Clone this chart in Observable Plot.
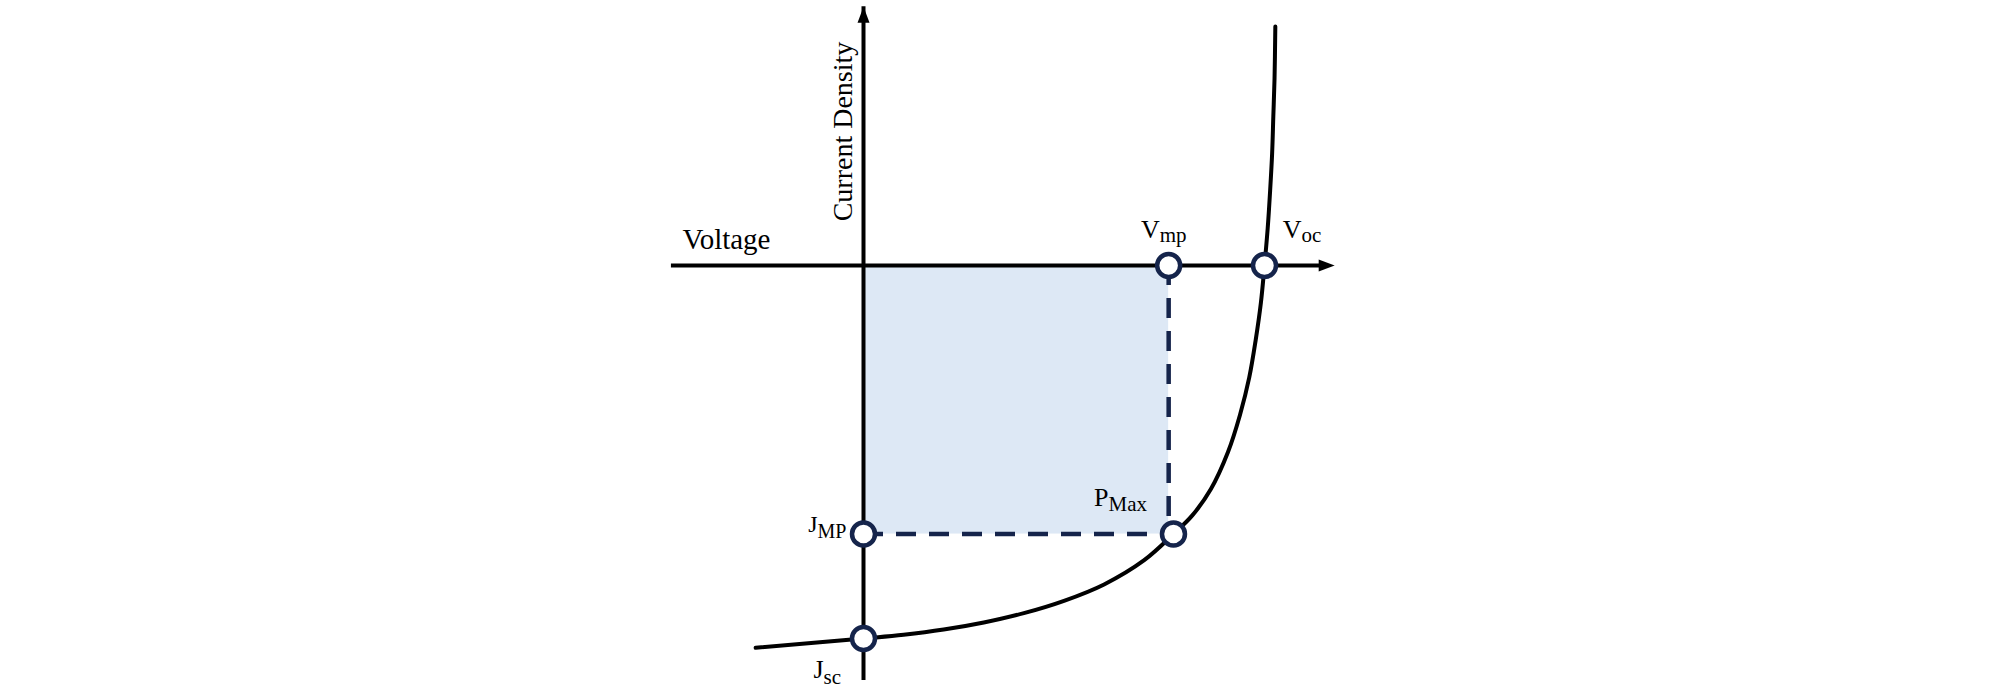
<!DOCTYPE html>
<html>
<head>
<meta charset="utf-8">
<script src="https://cdn.jsdelivr.net/npm/d3@7"></script>
<script src="https://cdn.jsdelivr.net/npm/@observablehq/plot@0.6"></script>
<style>
  html, body { margin: 0; padding: 0; background: #ffffff; }
  #chart { width: 2008px; height: 688px; }
</style>
</head>
<body>
<div id="chart"></div>
<script>
// ---- Data (normalized units: Voc = 1, Jsc = -1) ----
const curveV = [-0.269, 0, 0.1, 0.2, 0.3, 0.4, 0.5, 0.6, 0.7, 0.773, 0.82, 0.866, 0.909, 0.939, 0.962, 0.978, 0.991, 1.0, 1.008, 1.014, 1.019, 1.022, 1.025, 1.027];
const curveJ = [-1.025, -1.0, -0.990, -0.976, -0.957, -0.932, -0.899, -0.855, -0.790, -0.720, -0.670, -0.600, -0.500, -0.400, -0.300, -0.200, -0.100, 0, 0.100, 0.200, 0.300, 0.400, 0.500, 0.641];

const Voc = 1.0;
const Vmp = 0.761;
const Jsc = -1.0;
const Jmp = -0.72;
const Pmax = {v: 0.773, j: -0.72};

const voltageExtent = [-0.479, 1.175];   // horizontal axis: start, arrow tip
const currentExtent = [-1.086, 0.694];   // vertical axis: bottom, arrow tip

const axisTitles = ["Voltage", "Current Density"];
const labelBases = ["V", "V", "P", "J", "J"];
const labelSubs  = ["mp", "oc", "Max", "MP", "sc"];

const keyPoints = [
  {v: Vmp, j: 0},
  {v: Voc, j: 0},
  {v: Pmax.v, j: Pmax.j},
  {v: 0, j: Jmp},
  {v: 0, j: Jsc}
];

// ---- Styles ----
const navy = "#15244b";
const fillBlue = "#dde8f5";
const serif = "Liberation Serif, Times New Roman, serif";

const curve = curveV.map((v, i) => ({v, j: curveJ[i]}));

const arrowHead = {
  draw(context, size) {
    const k = Math.sqrt(size / Math.PI);
    context.moveTo(0, -k);
    context.lineTo(0.75 * k, k);
    context.lineTo(-0.75 * k, k);
    context.closePath();
  }
};

// label helper: base text ends at join point, subscript starts there
function label(i, dx, dyBase, dySub, baseSize, subSize) {
  const p = [keyPoints[i]];
  return [
    Plot.text(p, {x: "v", y: "j", text: () => labelBases[i], textAnchor: "end", lineAnchor: "bottom",
      dx, dy: dyBase, fontSize: baseSize, fontFamily: serif, fill: "#000"}),
    Plot.text(p, {x: "v", y: "j", text: () => labelSubs[i], textAnchor: "start", lineAnchor: "bottom",
      dx, dy: dySub, fontSize: subSize, fontFamily: serif, fill: "#000"})
  ];
}

const chart = Plot.plot({
  width: 2008,
  height: 688,
  margin: 0,
  x: {domain: [-863 / 401, (2008 - 863) / 401], axis: null},
  y: {domain: [(265 - 688) / 373, 265 / 373], axis: null},
  style: {background: "#ffffff"},
  marks: [
    // shaded max power rectangle
    Plot.rect([{x1: 0, x2: Vmp, y1: Jmp, y2: 0}], {x1: "x1", x2: "x2", y1: "y1", y2: "y2", fill: fillBlue}),
    // dashed guides
    Plot.ruleX([Vmp], {y1: 0, y2: Jmp, stroke: navy, strokeWidth: 4.5, strokeDasharray: "20,13"}),
    Plot.ruleY([Jmp], {x1: 0, x2: Vmp, stroke: navy, strokeWidth: 4.5, strokeDasharray: "20,13"}),
    // axes
    Plot.ruleY([0], {x1: voltageExtent[0], x2: voltageExtent[1], stroke: "#000", strokeWidth: 4, insetRight: 10}),
    Plot.ruleX([0], {y1: currentExtent[0], y2: currentExtent[1], stroke: "#000", strokeWidth: 4, insetTop: 10}),
    Plot.dot([{v: voltageExtent[1], j: 0}], {x: "v", y: "j", symbol: arrowHead, r: 8, rotate: 90, dx: -8, fill: "#000", stroke: "none"}),
    Plot.dot([{v: 0, j: currentExtent[1]}], {x: "v", y: "j", symbol: arrowHead, r: 8, dy: 8, fill: "#000", stroke: "none"}),
    // J-V curve
    Plot.line(curve, {x: "v", y: "j", curve: "catmull-rom", stroke: "#000", strokeWidth: 4}),
    // key points
    Plot.dot(keyPoints, {x: "v", y: "j", r: 11.5, fill: "#fff", stroke: navy, strokeWidth: 4.5}),
    // axis titles
    Plot.text([{v: voltageExtent[0], j: 0}], {x: "v", y: "j", text: () => axisTitles[0], textAnchor: "start", lineAnchor: "bottom",
      dx: 11, dy: -17, fontSize: 29, fontFamily: serif, fill: "#000"}),
    Plot.text([{v: 0, j: 0}], {x: "v", y: "j", text: () => axisTitles[1], textAnchor: "middle", lineAnchor: "bottom",
      rotate: -90, dx: -12, dy: -134, fontSize: 28, fontFamily: serif, fill: "#000"}),
    // point labels
    ...label(0, -9, -28, -24, 26, 21),
    ...label(1, 37, -28, -24, 26, 21),
    ...label(2, -65, -28, -23, 26, 21),
    ...label(3, -46, -2, 4, 24, 20),
    ...label(4, -40, 39, 45, 26, 21)
  ]
});

document.getElementById("chart").appendChild(chart);
</script>
</body>
</html>
